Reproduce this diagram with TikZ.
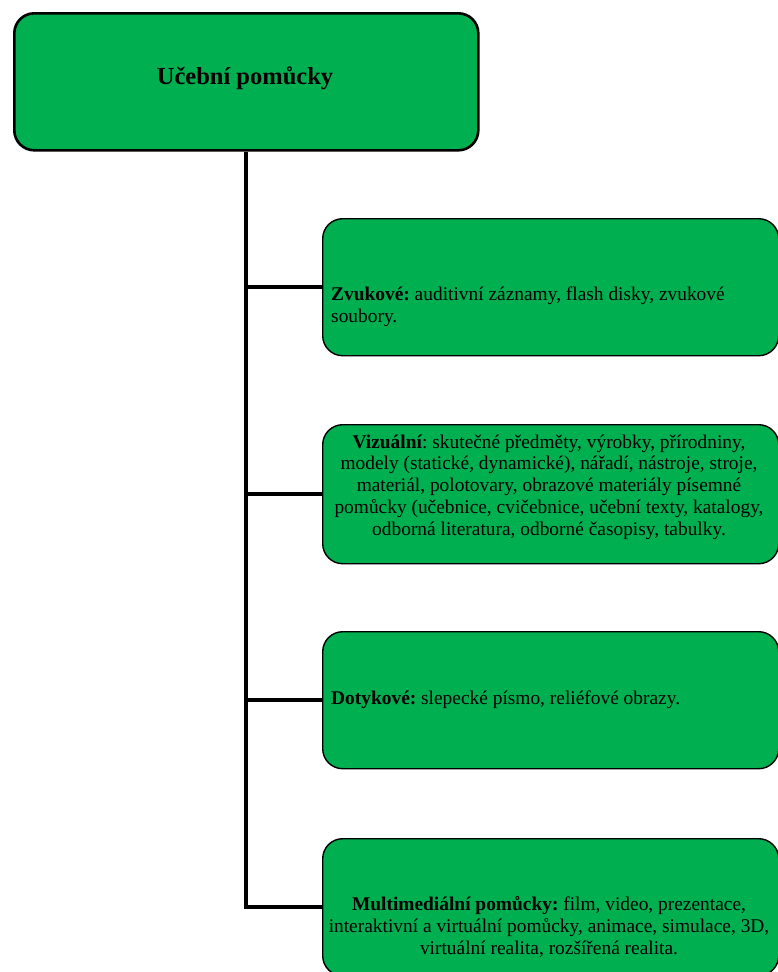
\documentclass[tikz,border=0pt]{standalone}
\usepackage{fontspec}
\setmainfont{Liberation Serif}
\definecolor{boxgreen}{HTML}{00B050}
\frenchspacing
\begin{document}
\begin{tikzpicture}[x=1pt,y=-1pt,
  box/.style={draw=black, fill=boxgreen, rounded corners=20pt, line width=1.4pt, inner sep=0pt, anchor=north west},
  topbox/.style={box, line width=2.6pt},
  conn/.style={draw=black, line width=3.8pt},
  lbl/.style={inner sep=0pt, font=\fontsize{19.4}{21.8}\selectfont},
  ttl/.style={inner sep=0pt, font=\fontsize{24.5}{28}\selectfont\bfseries}]
\useasboundingbox (0,0) rectangle (778,972);
\node[topbox, minimum width=464pt, minimum height=137pt] (top) at (13,12) {};
\node[box, minimum width=456pt, minimum height=137pt] (b1) at (322,218) {};
\node[box, minimum width=456pt, minimum height=139pt] (b2) at (322,424) {};
\node[box, minimum width=456pt, minimum height=137pt] (b3) at (322,631) {};
\node[box, minimum width=456pt, minimum height=137pt] (b4) at (322,838) {};
\node[ttl] (t0) at (245,78) {Učební pomůcky};
\node[lbl, anchor=west, align=left] (t1) at (331,307) {\frenchspacing\textbf{Zvukové:} auditivní záznamy, flash disky, zvukové\\soubory.};
\node[lbl, align=center] (t2) at (549,487) {\frenchspacing\textbf{Vizuální}: skutečné předměty, výrobky, přírodniny,\\modely (statické, dynamické), nářadí, nástroje, stroje,\\materiál, polotovary, obrazové materiály písemné\\pomůcky (učebnice, cvičebnice, učební texty, katalogy,\\odborná literatura, odborné časopisy, tabulky.};
\node[lbl, anchor=west, align=left] (t3) at (331,700) {\frenchspacing\textbf{Dotykové:} slepecké písmo, reliéfové obrazy.};
\node[lbl, align=center] (t4) at (549,927) {\frenchspacing\textbf{Multimediální pomůcky:} film, video, prezentace,\\interaktivní a virtuální pomůcky, animace, simulace, 3D,\\virtuální realita, rozšířená realita.};
\draw[conn] (top.south) -- (top.south |- b4.west) -- (b4.west);
\draw[conn] (top.south |- b1.west) -- (b1.west);
\draw[conn] (top.south |- b2.west) -- (b2.west);
\draw[conn] (top.south |- b3.west) -- (b3.west);
\end{tikzpicture}
\end{document}
